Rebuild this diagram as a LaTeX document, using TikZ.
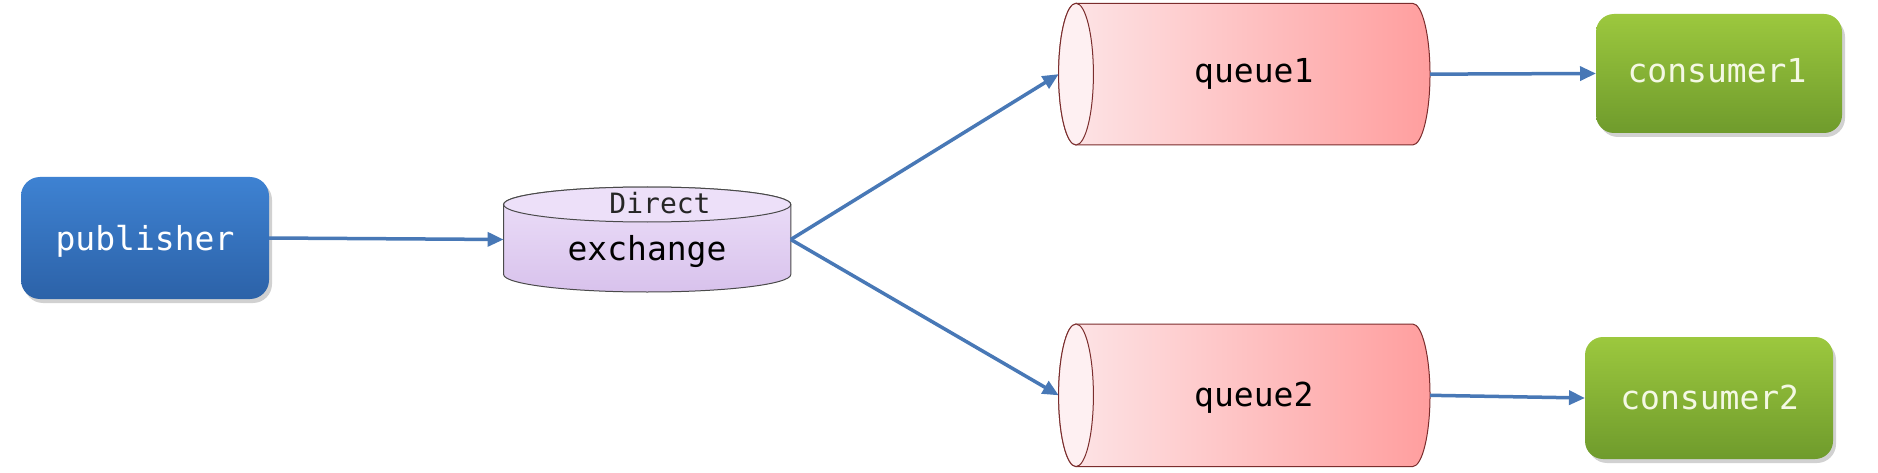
\documentclass[tikz,border=0pt]{standalone}
\usepackage{fontspec}
\setmonofont{DejaVu Sans Mono}
\usetikzlibrary{arrows.meta}
\definecolor{arrowblue}{HTML}{4878B6}
\definecolor{pubtop}{HTML}{3E82D2}
\definecolor{pubbot}{HTML}{2C62A8}
\definecolor{contop}{HTML}{9CC83E}
\definecolor{conbot}{HTML}{6F9B2C}
\definecolor{qleft}{HTML}{FDE6E8}
\definecolor{qright}{HTML}{FF9E9E}
\definecolor{qend}{HTML}{FEF0F2}
\definecolor{qborder}{HTML}{7B2D2D}
\definecolor{extop}{HTML}{EDE0F9}
\definecolor{exbot}{HTML}{D8C2EC}
\definecolor{exborder}{HTML}{4A4A4A}
\definecolor{contxt}{HTML}{F4F8E4}
\begin{document}
\begin{tikzpicture}[x=1pt,y=-1pt,
  conn/.style={draw=arrowblue, line width=3.5pt, -{Triangle[length=16pt,width=14pt]}},
  lbl/.style={font=\ttfamily\fontsize{33}{40}\selectfont, anchor=base, inner sep=0pt},
  smalllbl/.style={font=\ttfamily\fontsize{28}{34}\selectfont, anchor=base, inner sep=0pt},
  holder/.style={inner sep=0pt, outer sep=0pt},
  boxshadow/.style={fill=black, opacity=0.18, rounded corners=19pt},
  pubbox/.style={top color=pubtop, bottom color=pubbot, rounded corners=19pt},
  conbox/.style={top color=contop, bottom color=conbot, rounded corners=18pt},
  qbody/.style={left color=qleft, right color=qright, draw=qborder, line width=1pt},
  qcap/.style={fill=qend, draw=qborder, line width=1pt},
  exbody/.style={top color=extop, bottom color=exbot, draw=exborder, line width=1pt},
  excap/.style={fill=extop, draw=exborder, line width=1pt}]
\fill[white] (0,0) rectangle (1878,473);
\useasboundingbox (0,0) rectangle (1878,473);

% publisher
\fill[boxshadow] (24,181) rectangle (272,303);
\shade[pubbox] (21,177) rectangle (269,299);
\node[holder, minimum width=248pt, minimum height=122pt] (pub) at (145,238) {};
\node[lbl, text=white] (publbl) at (145,250) {publisher};

% exchange (vertical cylinder)
\shade[exbody] (503.6,204.5) -- (503.6,274.5)
  arc[start angle=180, end angle=360, x radius=143.6pt, y radius=17.5pt]
  -- (790.8,204.5)
  arc[start angle=0, end angle=180, x radius=143.6pt, y radius=17.5pt] -- cycle;
\filldraw[excap] (647.2,204.5) ellipse [x radius=143.6pt, y radius=17.5pt];
\node[holder, minimum width=287.2pt, minimum height=105pt] (ex) at (647.2,239.5) {};
\node[smalllbl, text=black!85] (exdirect) at (660,213) {Direct};
\node[lbl, text=black] (exname) at (647,260) {exchange};

% queue1
\shade[qbody] (1076,3.3) -- (1412.6,3.3)
  arc[start angle=90, end angle=-90, x radius=17.4pt, y radius=70.85pt]
  -- (1076,145) arc[start angle=270, end angle=90, x radius=17.4pt, y radius=70.85pt] -- cycle;
\filldraw[qcap] (1076,74.15) ellipse [x radius=17.4pt, y radius=70.85pt];
\node[holder, minimum width=371.3pt, minimum height=141.7pt] (q1) at (1244.35,74.15) {};
\node[lbl, text=black] (q1lbl) at (1253.8,83) {queue1};

% queue2
\shade[qbody] (1076,324) -- (1412.6,324)
  arc[start angle=90, end angle=-90, x radius=17.4pt, y radius=71.3pt]
  -- (1076,466.6) arc[start angle=270, end angle=90, x radius=17.4pt, y radius=71.3pt] -- cycle;
\filldraw[qcap] (1076,395.3) ellipse [x radius=17.4pt, y radius=71.3pt];
\node[holder, minimum width=371.3pt, minimum height=142.6pt] (q2) at (1244.35,395.3) {};
\node[lbl, text=black] (q2lbl) at (1253.8,406) {queue2};

% consumer1
\fill[boxshadow] (1599,18) rectangle (1845,137);
\shade[conbox] (1596,14) rectangle (1842,133);
\node[holder, minimum width=246pt, minimum height=119pt] (c1) at (1719,73.5) {};
\node[lbl, text=contxt] (c1lbl) at (1717,83) {consumer1};

% consumer2
\fill[boxshadow] (1588,341) rectangle (1836,463);
\shade[conbox] (1585,337) rectangle (1833,459);
\node[holder, minimum width=248pt, minimum height=122pt] (c2) at (1709,398) {};
\node[lbl, text=contxt] (c2lbl) at (1709.7,409) {consumer2};

% connectors
\draw[conn] (pub.east) -- (ex.west);
\draw[conn] (ex.east) -- (q1.west);
\draw[conn] (ex.east) -- (q2.west);
\draw[conn] (q1.east) -- (c1.west);
\draw[conn] (q2.east) -- (c2.west);
\end{tikzpicture}
\end{document}
